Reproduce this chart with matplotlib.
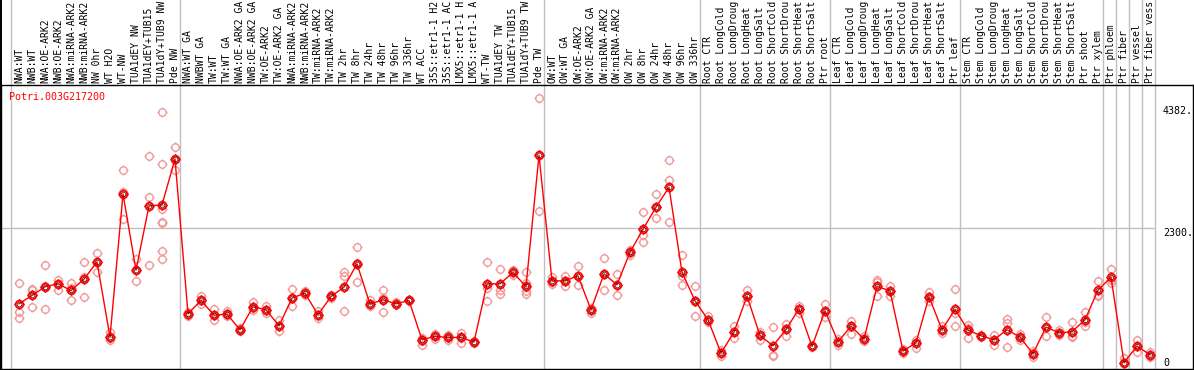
import numpy as np
import matplotlib.pyplot as plt
from matplotlib.path import Path

plt.rcParams['font.family'] = ['DejaVu Sans Mono']

gene = 'Potri.003G217200'

# column labels as they appear (cut to 14 characters in the reference)
labels = ['NWA:WT', 'NWB:WT', 'NWA:OE-ARK2', 'NWB:OE-ARK2', 'NWA:miRNA-ARK2', 'NWB:miRNA-ARK2',
          'NW 0hr', 'WT H2O', 'WT-NW', 'TUA1dEY NW', 'TUA1dEY+TUB15', 'TUA1dY+TUB9 NW', 'Pde NW',
          'NWA:WT GA', 'NWBWT GA', 'TW:WT', 'TW:WT GA', 'NWA:OE-ARK2 GA', 'NWB:OE-ARK2 GA',
          'TW:OE-ARK2', 'TW:OE-ARK2 GA', 'NWA:miRNA-ARK2', 'NWB:miRNA-ARK2', 'TW:miRNA-ARK2',
          'TW:miRNA-ARK2', 'TW 2hr', 'TW 8hr', 'TW 24hr', 'TW 48hr', 'TW 96hr', 'TW 336hr', 'WT ACC',
          '35S::etr1-1 H2', '35S::etr1-1 AC', 'LMX5::etr1-1 H', 'LMX5::etr1-1 A', 'WT-TW',
          'TUA1dEY TW', 'TUA1dEY+TUB15', 'TUA1dY+TUB9 TW', 'Pde TW',
          'OW:WT', 'OW:WT GA', 'OW:OE-ARK2', 'OW:OE-ARK2 GA', 'OW:miRNA-ARK2', 'OW:miRNA-ARK2',
          'OW 2hr', 'OW 8hr', 'OW 24hr', 'OW 48hr', 'OW 96hr', 'OW 336hr',
          'Root CTR', 'Root LongCold', 'Root LongDroug', 'Root LongHeat', 'Root LongSalt',
          'Root ShortCold', 'Root ShortDrou', 'Root ShortHeat', 'Root ShortSalt', 'Ptr root',
          'Leaf CTR', 'Leaf LongCold', 'Leaf LongDroug', 'Leaf LongHeat', 'Leaf LongSalt',
          'Leaf ShortCold', 'Leaf ShortDrou', 'Leaf ShortHeat', 'Leaf ShortSalt', 'Ptr leaf',
          'Stem CTR', 'Stem LongCold', 'Stem LongDroug', 'Stem LongHeat', 'Stem LongSalt',
          'Stem ShortCold', 'Stem ShortDrou', 'Stem ShortHeat', 'Stem ShortSalt', 'Ptr shoot',
          'Ptr xylem', 'Ptr phloem', 'Ptr fiber', 'Ptr vessel', 'Ptr fiber vess']

means = [1011, 1153, 1301, 1352, 1238, 1431, 1726, 444, 2884, 1584, 2680, 2697, 3480,
         841, 1068, 818, 835, 569, 960, 909, 637, 1108, 1193, 824, 1136, 1295, 1692, 1006,
         1079, 1011, 1068, 398, 455, 438, 438, 359, 1352, 1352, 1545, 1306, 3542,
         1403, 1403, 1488, 909, 1522, 1335, 1891, 2282, 2657, 2997, 1550, 1062,
         739, 171, 529, 1142, 472, 296, 574, 926, 285, 892,
         364, 631, 410, 1306, 1233, 206, 347, 1130, 569, 915,
         563, 467, 398, 569, 444, 160, 614, 518, 535, 739, 1244,
         1465, 10, 291, 143]

reps = [[1363, 869, 767], [1267, 1250, 949], [1675, 1306, 920], [1420, 1346, 1250],
        [1363, 1278, 1068], [1721, 1465, 1119], [1874, 1732, 1545], [529, 427, 387],
        [3293, 2924, 2453], [1777, 1590, 1397], [3531, 2827, 1675],
        [4274, 3389, 2623, 2413, 2396, 1914, 1772], [3678, 3463, 3293],
        [864, 824, 796], [1136, 1079, 1011], [920, 818, 728], [881, 835, 796], [597, 557, 540],
        [1034, 937, 909], [966, 909, 852], [728, 637, 540], [1261, 1108, 966], [1221, 1193, 1165],
        [881, 824, 767], [1165, 1136, 1108], [1545, 1477, 892], [1976, 1704, 1380],
        [1079, 1006, 966], [1250, 1108, 869], [1034, 1011, 989], [1079, 1068, 1057],
        [427, 370, 313], [501, 455, 410], [484, 427, 398], [512, 427, 342], [370, 359, 347],
        [1721, 1278, 1057], [1602, 1250, 1176], [1590, 1545, 1505],
        [1551, 1374, 1295, 1221, 1176], [4513, 3542, 2594],
        [1460, 1391, 1352], [1488, 1403, 1318], [1658, 1477, 1335], [937, 898, 852],
        [1789, 1522, 1250], [1522, 1335, 1159], [1931, 1891, 1846], [2572, 2186, 2061],
        [2878, 2657, 2470], [3457, 3122, 2402], [1846, 1477, 1335], [1318, 1062, 801],
        [807, 739, 694], [217, 171, 126], [625, 529, 427], [1238, 1142, 1051], [523, 472, 398],
        [614, 143, 126], [671, 574, 455], [977, 926, 852], [296, 285, 274], [1011, 892, 779],
        [410, 364, 302], [711, 631, 495], [467, 410, 381], [1420, 1380, 1147], [1318, 1233, 1147],
        [240, 206, 171], [398, 347, 257], [1204, 1130, 1051], [625, 569, 512], [1261, 852, 631],
        [654, 597, 427], [484, 467, 444], [484, 398, 302], [750, 682, 274], [501, 444, 398],
        [200, 160, 103], [784, 614, 467], [557, 518, 484], [694, 467, 444], [869, 694, 625],
        [1397, 1165, 1136], [1602, 1420, 1363], [86, 10, 0], [398, 291, 188], [183, 126, 103]]

group_bounds = [0, 13, 41, 53, 63, 73, 84, 85, 86, 87, 88]
ytick_vals = [4382, 2300, 0]
ytick_text = ['4382.', '2300.', '0']

W, H = 1194, 370
fig = plt.figure(figsize=(W / 100, H / 100), dpi=100)
ax = fig.add_axes([1 / W, (H - 369) / H, 1192 / W, 284 / H])
x0, x1 = (1 - 19) / 13, (1193 - 19) / 13
ax.set_xlim(x0, x1)
ax.set_ylim(-100, 4740)
ax.set_xticks([])
ax.set_yticks([])
for s in ax.spines.values():
    s.set_linewidth(1.0)
    s.set_color('black')

edges = np.array(group_bounds) - 8 / 13
ext = 369 / 284
for e in edges:
    ax.axvline(e, 0, ext, color='#c0c0c0', lw=1, clip_on=False, zorder=1)
ax.axvline(x0, 0, ext, color='black', lw=1.4, clip_on=False, zorder=5)
ax.hlines(2300, x0, edges[-1], color='#c0c0c0', lw=1, zorder=1)

# circle marker with little ticks
circ = Path.unit_circle()
verts = list(circ.vertices)
codes = list(circ.codes)
for a, b in [((0, 1), (0, 1.35)), ((0, -1), (0, -1.35)), ((1, 0), (1.35, 0)), ((-1, 0), (-1.35, 0))]:
    verts += [a, b]
    codes += [Path.MOVETO, Path.LINETO]
mk = Path(verts, codes)

x = np.arange(len(means))
for i, r in enumerate(reps):
    ax.plot([i] * len(r), r, ls='none', marker=mk, ms=7.2, mfc='none', mec='#f09a9a', mew=1.0, zorder=2)
ax.plot(x, means, color='#ff0000', lw=1.0, zorder=3)
ax.plot(x, means, ls='none', marker=mk, ms=7.4, mfc='none', mec='#ff0000', mew=1.3, zorder=4)
ax.plot(x, means, ls='none', marker='o', ms=3.4, mfc='none', mec='#400000', mew=0.5, zorder=4)

xf = ax.get_xaxis_transform()
for i, lab in enumerate(labels):
    ax.text(i, (369 - 83) / 284, lab, transform=xf, rotation=90, ha='center', va='bottom',
            fontsize=7.0, color='black')

ax.text(8 / 1192, (369 - 97) / 284, gene, transform=ax.transAxes, ha='left', va='center',
        fontsize=7.2, color='#ff0000')

xt = (1163 - 19) / 13
for v, t in zip(ytick_vals, ytick_text):
    ax.text(xt, v, t, ha='left', va='top' if v > 0 else 'center', fontsize=7.2, color='black')

fig.savefig('out.png', dpi=100)
